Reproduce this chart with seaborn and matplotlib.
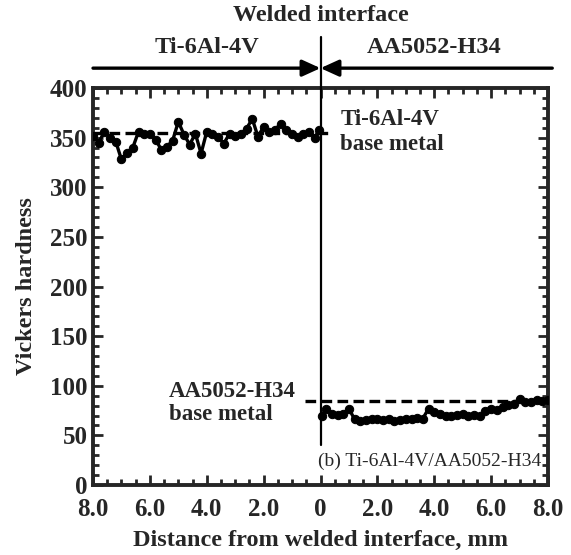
import numpy as np
import pandas as pd
import matplotlib
matplotlib.use("Agg")
import matplotlib.pyplot as plt
from matplotlib.ticker import MultipleLocator, FixedLocator, FixedFormatter
import seaborn as sns

# ---- data ----
ti_x = [-8.0, -7.8, -7.6, -7.4, -7.2, -7.0, -6.8, -6.6, -6.4, -6.2, -6.0, -5.8, -5.6, -5.4,
        -5.2, -5.0, -4.8, -4.6, -4.4, -4.2, -4.0, -3.8, -3.6, -3.4, -3.2, -3.0, -2.8, -2.6,
        -2.4, -2.2, -2.0, -1.8, -1.6, -1.4, -1.2, -1.0, -0.8, -0.6, -0.4, -0.2, -0.05]
ti_hv = [352, 345, 356, 350, 346, 328, 335, 340, 356, 354, 354, 348, 338, 341,
         347, 366, 353, 343, 354, 334, 356, 354, 351, 344, 354, 352, 354, 359,
         369, 351, 361, 356, 358, 364, 358, 354, 351, 354, 356, 350, 358]
al_x = [0.05, 0.2, 0.4, 0.6, 0.8, 1.0, 1.2, 1.4, 1.6, 1.8, 2.0, 2.2, 2.4, 2.6, 2.8, 3.0,
        3.2, 3.4, 3.6, 3.8, 4.0, 4.2, 4.4, 4.6, 4.8, 5.0, 5.2, 5.4, 5.6, 5.8, 6.0, 6.2,
        6.4, 6.6, 6.8, 7.0, 7.2, 7.4, 7.6, 7.8, 8.0]
al_hv = [70, 77, 72, 71, 72, 77, 66, 64, 65, 66, 67, 65, 66, 64, 65, 67,
         66, 68, 67, 77, 74, 72, 70, 70, 71, 72, 70, 71, 70, 75, 77, 76,
         79, 81, 82, 87, 84, 84, 86, 85, 86]
ti_base = 355
al_base = 85
xtick_vals = [-8, -6, -4, -2, 0, 2, 4, 6, 8]
xtick_labels = ["8.0", "6.0", "4.0", "2.0", "0", "2.0", "4.0", "6.0", "8.0"]
ytick_vals = [0, 50, 100, 150, 200, 250, 300, 350, 400]

df = pd.concat([
    pd.DataFrame({"x": ti_x, "hv": ti_hv, "side": "Ti"}),
    pd.DataFrame({"x": al_x, "hv": al_hv, "side": "Al"}),
])

sns.set_style("ticks")
plt.rcParams["font.family"] = ["Liberation Serif", "DejaVu Serif"]

fig = plt.figure(figsize=(5.71, 5.55), dpi=100)
ax = fig.add_axes([93/571, 1-485/555, (548-93)/571, (485-88)/555])

sns.lineplot(data=df, x="x", y="hv", units="side", estimator=None, ax=ax,
             color="black", linewidth=2.4, marker="o", markersize=6,
             markeredgecolor="black", markerfacecolor="black", legend=False, zorder=3)

# base metal dashed lines
ax.plot([-8, 0.45], [ti_base, ti_base], color="black", lw=2.4, ls=(0, (3.2, 1.6)), zorder=2)
ax.plot([-0.55, 8], [al_base, al_base], color="black", lw=2.4, ls=(0, (3.2, 1.6)), zorder=2)

# interface line
ax.plot([0, 0], [40, 451], color="black", lw=1.6, clip_on=False, zorder=5)

ax.set_xlim(-8, 8)
ax.set_ylim(0, 400)
ax.xaxis.set_major_locator(FixedLocator(xtick_vals))
ax.xaxis.set_major_formatter(FixedFormatter(xtick_labels))
ax.xaxis.set_minor_locator(MultipleLocator(0.5))
ax.yaxis.set_major_locator(FixedLocator(ytick_vals))
ax.yaxis.set_minor_locator(MultipleLocator(10))
ax.tick_params(which="both", direction="in", top=True, right=True, width=2)
ax.tick_params(which="major", length=7, labelsize=18)
ax.tick_params(axis="x", which="major", pad=9)
ax.tick_params(axis="y", which="major", pad=4)
ax.tick_params(which="minor", length=4)
for lab in ax.get_xticklabels() + ax.get_yticklabels():
    lab.set_fontweight("bold")
for s in ax.spines.values():
    s.set_linewidth(2.8)
    s.set_visible(True)

ax.set_xlabel("Distance from welded interface, mm", fontsize=17.5, fontweight="bold", labelpad=7)
ax.set_ylabel("Vickers hardness", fontsize=17.5, fontweight="bold", labelpad=9)

# annotations inside
ax.text(0.7, 368, "Ti-6Al-4V", fontsize=16.5, fontweight="bold", va="center", ha="left")
ax.text(0.7, 343, "base metal", fontsize=16.5, fontweight="bold", va="center", ha="left")
ax.text(-5.32, 94, "AA5052-H34", fontsize=16.5, fontweight="bold", va="center", ha="left")
ax.text(-5.32, 71, "base metal", fontsize=16.5, fontweight="bold", va="center", ha="left")
ax.text(7.75, 24, "(b) Ti-6Al-4V/AA5052-H34", fontsize=14, va="center", ha="right")

# header
ax.text(0, 473, "Welded interface", fontsize=17.5, fontweight="bold", ha="center", va="center", clip_on=False)
ax.text(-4, 441, "Ti-6Al-4V", fontsize=17.5, fontweight="bold", ha="center", va="center", clip_on=False)
ax.text(4, 441, "AA5052-H34", fontsize=17.5, fontweight="bold", ha="center", va="center", clip_on=False)
arrow_kw = dict(arrowstyle="-|>,head_length=0.55,head_width=0.25", color="black", lw=2.4,
                shrinkA=0, shrinkB=0, mutation_scale=20)
ax.annotate("", xy=(0, 420), xytext=(-8, 420), arrowprops=arrow_kw, annotation_clip=False)
ax.annotate("", xy=(0, 420), xytext=(8.15, 420), arrowprops=arrow_kw, annotation_clip=False)

fig.savefig("out.png", dpi=100)
